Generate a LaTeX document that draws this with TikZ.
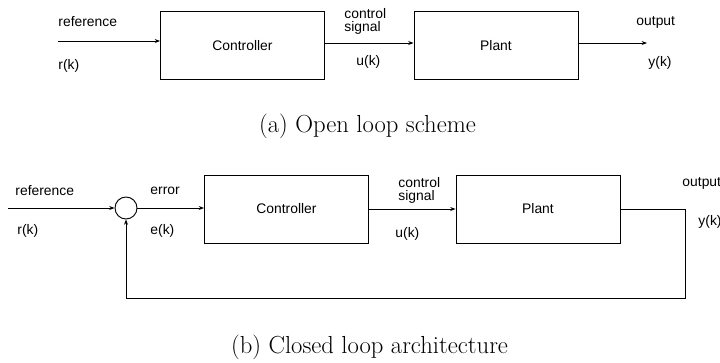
\documentclass[tikz,border=0pt]{standalone}
\usepackage{fontspec}
\newfontfamily\lblfont{Liberation Sans}
\usetikzlibrary{arrows.meta,calc}
\begin{document}
\begin{tikzpicture}[x=0.75pt,y=-0.75pt,
  line width=0.7pt,
  blk/.style={draw,minimum width=123pt,minimum height=51pt,inner sep=0pt,font=\lblfont\fontsize{10.4}{10}\selectfont},
  sumc/.style={draw,circle,minimum size=16.5pt,inner sep=0pt},
  lbl/.style={inner sep=0pt,anchor=west,align=left,font=\lblfont\fontsize{10.4}{9.8}\selectfont},
  captxt/.style={inner sep=0pt,font=\fontsize{18.5}{20}\selectfont},
  arr/.style={-{Stealth[length=4pt,width=3pt]}}]
\useasboundingbox[fill=white] (0,0) rectangle (720,362);
% (a) open loop
\node[blk] (ctrl) at (242.5,45.5) {Controller};
\node[blk] (plant) at (496,45.5) {Plant};
\coordinate (r1) at (58,41);
\coordinate (y1) at (647,43);
\draw[arr] (r1) -- (ctrl.west |- r1);
\draw[arr] ($(ctrl.east)+(0,-2.5)$) -- ($(plant.west)+(0,-2.5)$);
\draw[arr] ($(plant.east)+(0,-2.5)$) -- (y1);
\node[lbl] (ta1) at (58,22) {reference};
\node[lbl] (ta2) at (58,66) {r(k)};
\node[lbl] (ta3) at (344,21.5) {control\\signal};
\node[lbl] (ta4) at (356,62) {u(k)};
\node[lbl] (ta5) at (636,22) {output};
\node[lbl] (ta6) at (648,63) {y(k)};
\node[captxt] (capa) at (367.5,126) {(a) Open loop scheme};
% (b) closed loop
\node[sumc] (sum) at (126,208) {};
\node[blk] (ctrl2) at (286.5,209) {Controller};
\node[blk] (plant2) at (538,209) {Plant};
\coordinate (r2) at (8,208);
\coordinate (c1) at (685,209);
\coordinate (c2) at (685,298);
\draw[arr] (r2) -- (sum.west);
\draw[arr] (sum.east) -- (ctrl2.west |- sum.east);
\draw[arr] (ctrl2.east) -- (plant2.west);
\draw[arr] (plant2.east) -- (c1) -- (c2) -| (sum.south);
\node[lbl] (tb1) at (15,191) {reference};
\node[lbl] (tb2) at (17,231) {r(k)};
\node[lbl] (tb3) at (150,191) {error};
\node[lbl] (tb4) at (150,231) {e(k)};
\node[lbl] (tb5) at (398,190) {control\\signal};
\node[lbl] (tb6) at (395,234) {u(k)};
\node[lbl] (tb7) at (682,183) {output};
\node[lbl] (tb8) at (698,222) {y(k)};
\node[captxt] (capb) at (369.5,347) {(b) Closed loop architecture};
\end{tikzpicture}
\end{document}
